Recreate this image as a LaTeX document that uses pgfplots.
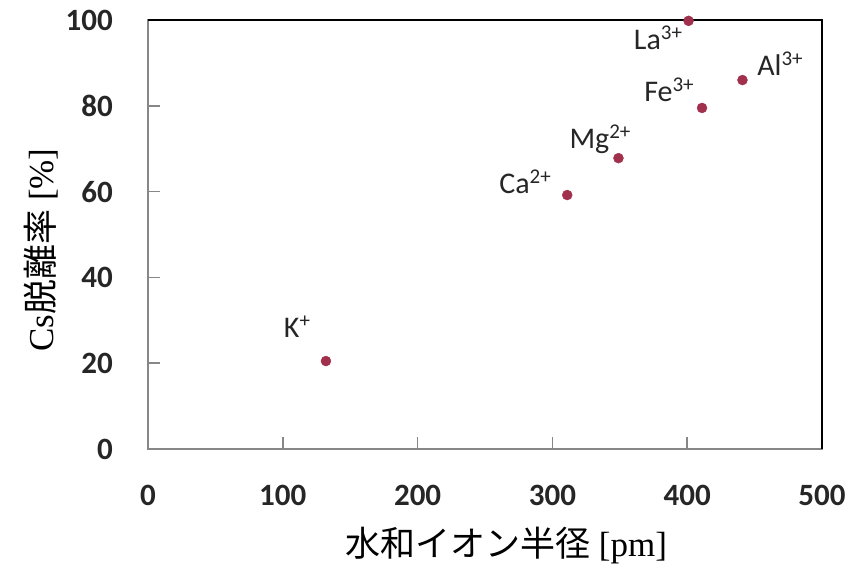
\documentclass[border=0pt]{standalone}
\usepackage{pgfplots}
\pgfplotsset{compat=1.18}
\usepackage{fontspec}
\setmainfont{Liberation Serif}
\newfontfamily\cjk{Noto Sans CJK JP}
\newfontfamily\carl{Carlito}
\definecolor{dotc}{HTML}{A0304C}
\definecolor{axg}{HTML}{878787}
\definecolor{txt}{HTML}{262626}
\newcommand{\sups}[1]{\raisebox{10pt}{\fontsize{21}{21}\selectfont #1}}
\begin{document}
\begin{tikzpicture}
\begin{axis}[name=ax, scale only axis, width=674pt, height=429pt,
 xmin=0, xmax=500, ymin=0, ymax=100,
 xtick={0,100,...,500}, ytick={0,20,...,100},
 axis line style={axg, line width=1.5pt},
 tick align=inside, tick pos=left,
 major tick length=12pt,
 tick style={axg, line width=1.5pt},
 /pgf/number format/assume math mode=true,
 ticklabel style={font=\carl\bfseries\fontsize{31}{34}\selectfont, text=txt, inner sep=0pt},
 yticklabel style={anchor=east, xshift=-35pt},
 xticklabel style={anchor=north, yshift=-36pt},
 xlabel={{\cjk 水和イオン半径} [pm]},
 ylabel={Cs{\cjk 脱離率} [\%]},
 label style={font=\fontsize{35}{40}\selectfont, text=black},
 xlabel style={at={(axis description cs:0.5312,-0.2238)}, anchor=center},
 ylabel style={at={(axis description cs:-0.1588,0.4639)}, anchor=center},
 clip=false]
\draw[black, line width=1.5pt] (rel axis cs:0,1) -- (rel axis cs:1,1) -- (rel axis cs:1,0);
\addplot[only marks, mark=*, mark size=5pt, mark options={draw=dotc, fill=dotc}] coordinates {
 (132,20.5) (311,59.2) (349,67.8) (411,79.5) (441,86.0) (401,99.8)};
\begin{scope}[every node/.style={font=\carl\fontsize{30}{34}\selectfont, text=txt, anchor=center, inner sep=0pt}]
\node at (axis cs:110.5,28.4) {K\sups{+}};
\node at (axis cs:279.7,62.2) {Ca\sups{2+}};
\node at (axis cs:335.3,72.3) {Mg\sups{2+}};
\node at (axis cs:386.5,83.7) {Fe\sups{3+}};
\node at (axis cs:378.3,95.8) {La\sups{3+}};
\node at (axis cs:468.8,89.7) {Al\sups{3+}};
\end{scope}
\end{axis}
\pgfresetboundingbox
\path[use as bounding box] ([shift={(-148pt,-118pt)}]ax.south west) rectangle ([shift={(41pt,20pt)}]ax.north east);
\end{tikzpicture}
\end{document}
